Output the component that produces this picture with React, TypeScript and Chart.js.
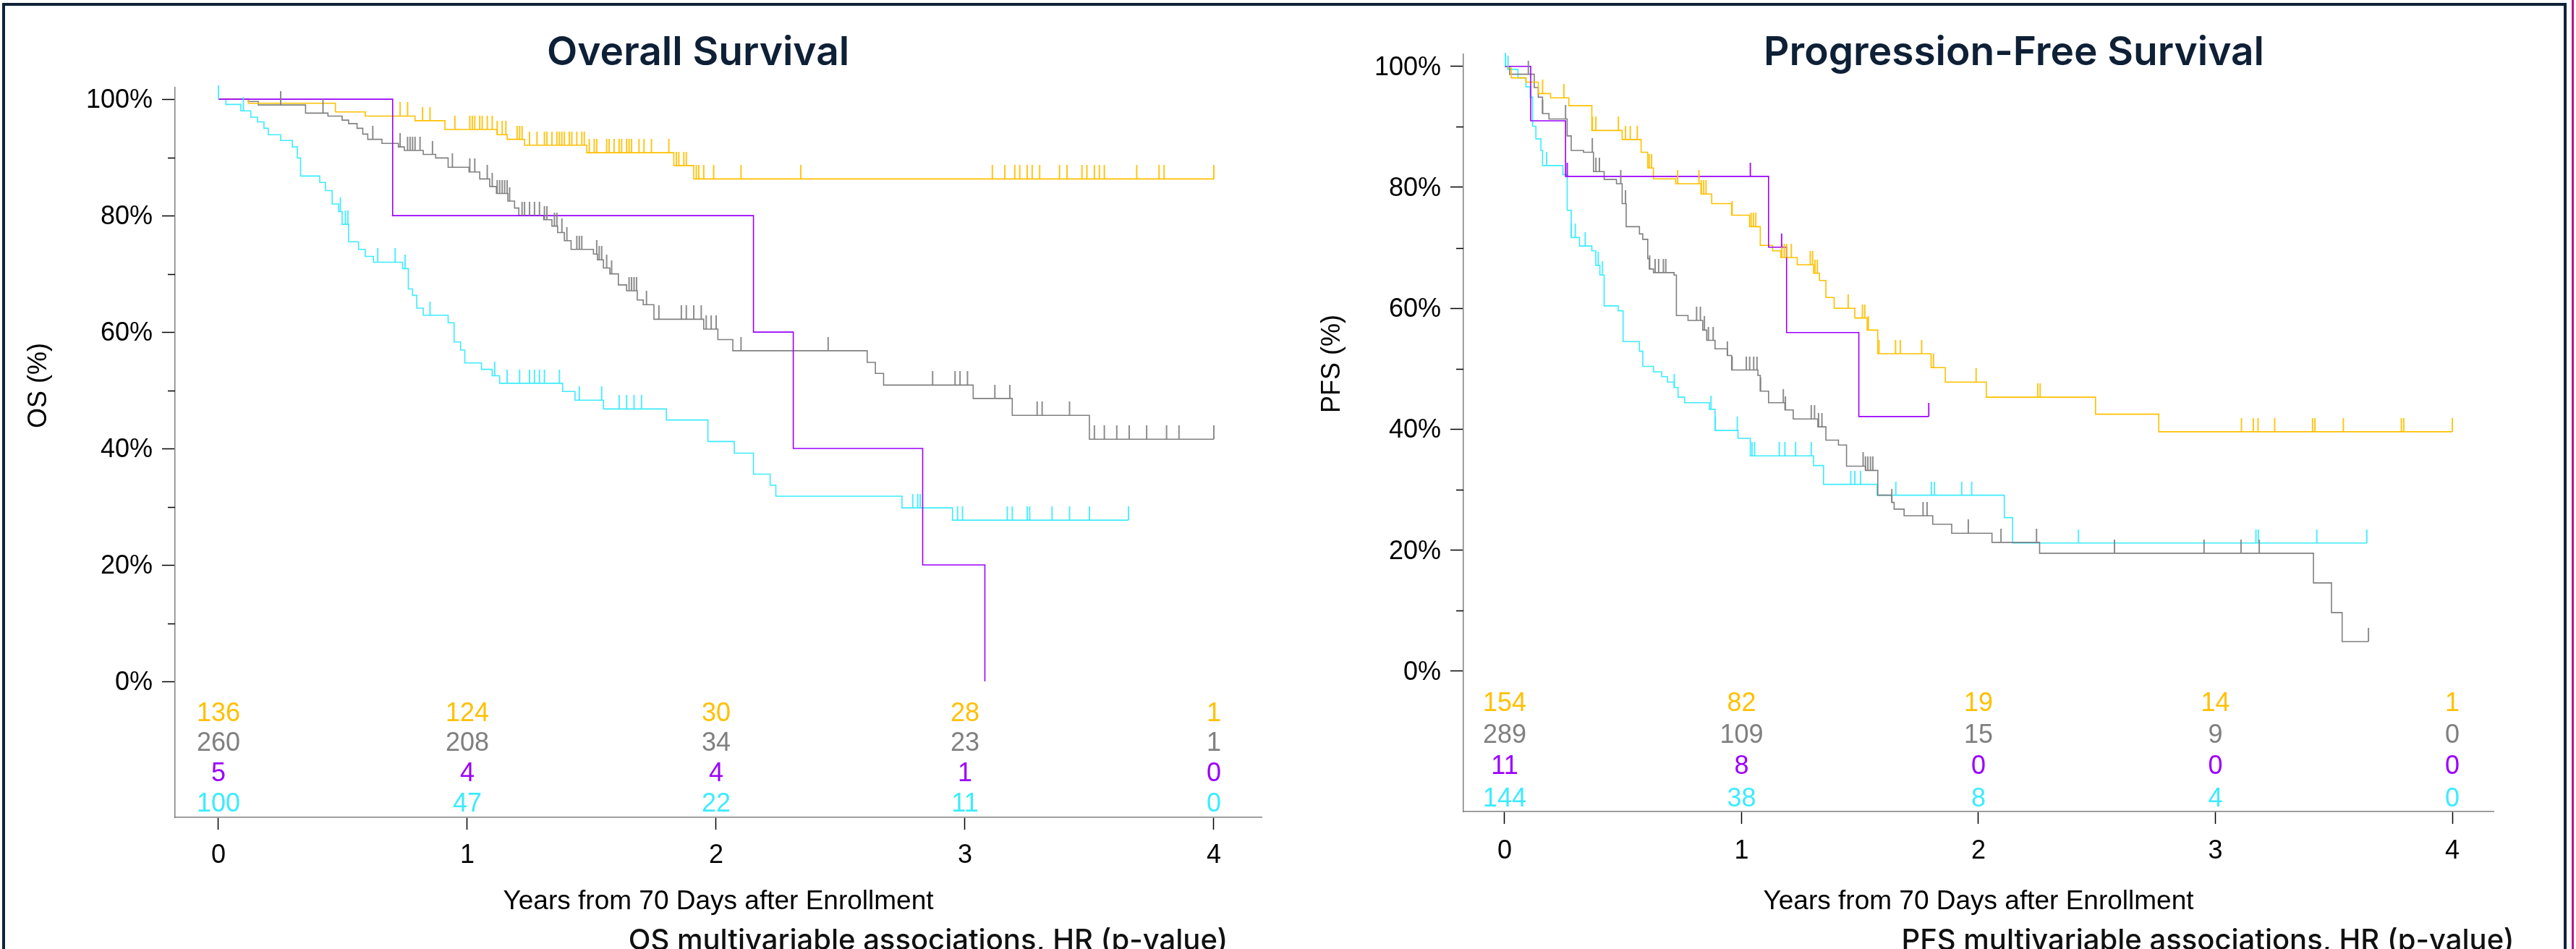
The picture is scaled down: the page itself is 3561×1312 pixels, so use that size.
import React, { useEffect, useRef } from 'react';
import { Chart, registerables } from 'chart.js';

Chart.register(...registerables);

// ---------------- data ----------------
const yearTicks = [0, 1, 2, 3, 4];
const percentTicks = [0, 20, 40, 60, 80, 100];
const minorPercentTicks = [10, 30, 50, 70, 90];

const groupColors = ['#FFC000', '#808080', '#9B00FF', '#3DEBFF'];

// Overall survival (years, %)
const osYellowT = [0, 0.12, 0.47, 0.59, 0.79, 0.91, 1.12, 1.16, 1.23, 1.48, 1.83, 1.91];
const osYellowS = [100, 99.3, 97.8, 97.1, 96.3, 94.8, 93.9, 93.1, 92.1, 90.8, 88.6, 86.3];
const osYellowEnd = 4.0;
const osYellowCensor = [0.73, 0.76, 0.82, 0.85, 0.95, 1.01, 1.02, 1.03, 1.05, 1.06, 1.08, 1.1, 1.12, 1.14, 1.155, 1.2, 1.21, 1.22, 1.25, 1.28, 1.31, 1.32, 1.34, 1.36, 1.37, 1.38, 1.39, 1.41, 1.42, 1.44, 1.46, 1.47, 1.49, 1.51, 1.52, 1.56, 1.57, 1.59, 1.61, 1.62, 1.64, 1.65, 1.66, 1.69, 1.71, 1.74, 1.81, 1.84, 1.85, 1.87, 1.88, 1.92, 1.93, 1.95, 1.99, 2.1, 2.34, 3.11, 3.16, 3.2, 3.22, 3.25, 3.27, 3.3, 3.38, 3.41, 3.47, 3.49, 3.52, 3.54, 3.56, 3.69, 3.78, 3.8, 4.0];

const osGrayT = [0, 0.12, 0.16, 0.35, 0.44, 0.497, 0.523, 0.557, 0.58, 0.6, 0.657, 0.723, 0.747, 0.823, 0.873, 0.923, 1.007, 1.05, 1.09, 1.117, 1.163, 1.19, 1.207, 1.307, 1.34, 1.363, 1.39, 1.417, 1.507, 1.523, 1.547, 1.573, 1.607, 1.64, 1.683, 1.707, 1.75, 1.95, 2.007, 2.067, 2.607, 2.64, 2.673, 3.033, 3.19, 3.5];
const osGrayS = [100, 99.6, 99.0, 97.6, 97.1, 96.4, 95.8, 95.0, 94.0, 93.1, 92.4, 91.8, 91.2, 90.5, 89.9, 88.3, 87.5, 86.3, 85.0, 83.8, 82.5, 81.3, 80.0, 79.3, 78.2, 77.1, 75.7, 74.2, 73.4, 72.4, 71.0, 70.0, 68.1, 67.1, 65.5, 64.7, 62.2, 60.5, 58.7, 56.8, 54.8, 52.9, 50.9, 48.6, 45.7, 41.6];
const osGrayEnd = 4.0;
const osGrayCensor = [0.25, 0.42, 0.62, 0.73, 0.76, 0.77, 0.78, 0.79, 0.81, 0.86, 0.94, 1.01, 1.03, 1.08, 1.1, 1.12, 1.13, 1.14, 1.15, 1.16, 1.17, 1.22, 1.23, 1.25, 1.27, 1.29, 1.31, 1.32, 1.35, 1.36, 1.38, 1.4, 1.44, 1.45, 1.46, 1.52, 1.53, 1.54, 1.56, 1.58, 1.65, 1.66, 1.67, 1.68, 1.72, 1.77, 1.86, 1.88, 1.91, 1.94, 1.96, 1.98, 2.0, 2.1, 2.45, 2.87, 2.96, 2.98, 3.01, 3.12, 3.18, 3.29, 3.31, 3.42, 3.52, 3.56, 3.61, 3.66, 3.73, 3.81, 3.86, 4.0];

const osPurpleT = [0, 0.7, 2.15, 2.31, 2.83, 3.08];
const osPurpleS = [100, 80, 60, 40, 20, 0];
const osPurpleEnd = 3.08;
const osPurpleCensor: number[] = [];

const osCyanT = [0, 0.03, 0.09, 0.13, 0.157, 0.183, 0.2, 0.25, 0.297, 0.317, 0.33, 0.407, 0.43, 0.457, 0.483, 0.497, 0.523, 0.563, 0.59, 0.623, 0.74, 0.763, 0.78, 0.797, 0.823, 0.923, 0.947, 0.973, 0.99, 1.057, 1.1, 1.13, 1.383, 1.433, 1.547, 1.8, 1.967, 2.073, 2.15, 2.217, 2.24, 2.747, 2.95];
const osCyanS = [100, 99.1, 98.0, 96.9, 96.1, 95.0, 93.9, 92.9, 91.8, 89.9, 86.8, 85.7, 84.3, 82.0, 80.7, 78.5, 75.5, 74.2, 73.0, 72.0, 70.9, 67.4, 66.3, 64.1, 62.9, 61.6, 58.3, 56.9, 54.7, 53.6, 52.5, 51.2, 49.8, 48.3, 46.8, 44.9, 41.2, 39.2, 35.6, 33.7, 31.8, 29.8, 27.7];
const osCyanEnd = 3.657;
const osCyanCensor = [0, 0.1, 0.49, 0.51, 0.52, 0.64, 0.71, 0.75, 0.85, 1.11, 1.16, 1.21, 1.25, 1.27, 1.29, 1.31, 1.37, 1.45, 1.54, 1.61, 1.64, 1.67, 1.7, 2.79, 2.81, 2.82, 2.97, 2.99, 3.17, 3.19, 3.25, 3.26, 3.35, 3.42, 3.5, 3.657];

// Progression-free survival (years, %)
const pfsYellowT = [0, 0.014, 0.028, 0.09, 0.142, 0.194, 0.271, 0.368, 0.496, 0.576, 0.604, 0.628, 0.722, 0.829, 0.874, 0.958, 1.034, 1.079, 1.131, 1.166, 1.235, 1.304, 1.329, 1.356, 1.391, 1.478, 1.53, 1.575, 1.8, 1.86, 2.033, 2.494, 2.761];
const pfsYellowS = [100, 99.7, 98.1, 97.4, 95.5, 94.8, 93.5, 89.4, 87.9, 85.8, 83.2, 81.4, 80.6, 78.9, 77.3, 75.4, 73.5, 70.4, 69.5, 68.4, 67.2, 65.8, 64.6, 61.8, 60.0, 58.4, 56.4, 52.5, 50.2, 47.8, 45.3, 42.5, 39.6];
const pfsYellowEnd = 4.0;
const pfsYellowCensor = [0.16, 0.25, 0.37, 0.385, 0.48, 0.51, 0.53, 0.56, 0.61, 0.62, 0.73, 0.82, 0.83, 0.84, 0.85, 0.96, 1.04, 1.05, 1.06, 1.17, 1.18, 1.19, 1.21, 1.29, 1.3, 1.31, 1.32, 1.45, 1.51, 1.52, 1.535, 1.58, 1.65, 1.67, 1.76, 1.81, 1.99, 2.25, 2.26, 3.11, 3.16, 3.18, 3.25, 3.41, 3.42, 3.54, 3.785, 3.795, 4.0];

const pfsGrayT = [0, 0.021, 0.125, 0.142, 0.16, 0.187, 0.264, 0.281, 0.333, 0.375, 0.42, 0.472, 0.496, 0.513, 0.569, 0.583, 0.604, 0.611, 0.628, 0.715, 0.725, 0.774, 0.836, 0.853, 0.888, 0.94, 0.958, 1.069, 1.079, 1.114, 1.183, 1.218, 1.322, 1.356, 1.409, 1.443, 1.523, 1.575, 1.634, 1.644, 1.686, 1.807, 1.887, 2.057, 2.258, 3.414, 3.49, 3.535];
const pfsGrayS = [100, 98.7, 96.5, 94.9, 92.2, 91.3, 88.5, 86.1, 85.8, 82.6, 81.3, 80.6, 77.3, 73.5, 72.3, 71.4, 68.2, 66.5, 65.9, 65.5, 58.8, 58.0, 56.4, 54.7, 53.3, 52.2, 49.8, 48.9, 46.3, 44.4, 43.2, 41.7, 40.4, 38.2, 37.4, 33.9, 33.2, 29.1, 27.9, 26.8, 25.7, 24.3, 22.8, 21.3, 19.5, 14.6, 9.7, 4.9];
const pfsGrayEnd = 3.646;
const pfsGrayCensor = [0.1, 0.16, 0.257, 0.37, 0.385, 0.4, 0.49, 0.51, 0.612, 0.635, 0.65, 0.67, 0.68, 0.81, 0.826, 0.843, 0.86, 0.88, 0.94, 0.96, 1.02, 1.034, 1.051, 1.065, 1.08, 1.176, 1.185, 1.294, 1.308, 1.325, 1.339, 1.513, 1.523, 1.533, 1.544, 1.554, 1.634, 1.766, 1.783, 1.957, 2.095, 2.245, 2.574, 2.952, 3.108, 3.185, 3.646];

const pfsPurpleT = [0, 0.11, 0.257, 1.114, 1.19, 1.495];
const pfsPurpleS = [100, 91.0, 81.8, 70.1, 56.0, 42.1];
const pfsPurpleEnd = 1.79;
const pfsPurpleCensor = [0.264, 1.037, 1.169, 1.79];

const pfsCyanT = [0, 0.014, 0.056, 0.09, 0.108, 0.118, 0.132, 0.153, 0.16, 0.246, 0.264, 0.281, 0.316, 0.368, 0.385, 0.402, 0.42, 0.479, 0.5, 0.569, 0.583, 0.628, 0.663, 0.687, 0.715, 0.732, 0.76, 0.864, 0.888, 0.985, 1.037, 1.304, 1.346, 1.572, 2.109, 2.144];
const pfsCyanS = [100, 99.5, 98.1, 96.6, 94.9, 90.1, 88.0, 86.1, 83.6, 82.1, 76.2, 71.7, 70.3, 69.5, 67.1, 65.5, 60.4, 59.6, 54.5, 52.9, 50.4, 49.5, 48.7, 47.8, 46.9, 45.3, 44.4, 43.3, 39.8, 38.5, 35.6, 34.0, 30.9, 29.1, 25.4, 21.2];
const pfsCyanEnd = 3.639;
const pfsCyanCensor = [0.003, 0.014, 0.177, 0.281, 0.298, 0.34, 0.395, 0.413, 0.716, 0.871, 0.889, 0.982, 1.044, 1.055, 1.159, 1.183, 1.228, 1.294, 1.461, 1.478, 1.502, 1.651, 1.801, 1.814, 1.929, 1.971, 2.422, 3.171, 3.181, 3.428, 3.639];

// numbers at risk (yellow, gray, purple, cyan) at yearTicks
const osRiskYellow = [136, 124, 30, 28, 1];
const osRiskGray = [260, 208, 34, 23, 1];
const osRiskPurple = [5, 4, 4, 1, 0];
const osRiskCyan = [100, 47, 22, 11, 0];
const pfsRiskYellow = [154, 82, 19, 14, 1];
const pfsRiskGray = [289, 109, 15, 9, 0];
const pfsRiskPurple = [11, 8, 0, 0, 0];
const pfsRiskCyan = [144, 38, 8, 4, 0];

// risk-table row levels on the y scale (%)
const osRiskRowLevels = [-5.65, -10.75, -15.95, -21.15];
const pfsRiskRowLevels = [-5.45, -10.65, -15.8, -21.15];

// ---------------- helpers ----------------
type Group = { t: number[]; s: number[]; end: number; censor: number[]; color: string };

function stepPoints(g: Group) {
  const pts = g.t.map((t, i) => ({ x: t, y: g.s[i] }));
  if (g.end > g.t[g.t.length - 1]) pts.push({ x: g.end, y: g.s[g.s.length - 1] });
  return pts;
}
function valueAt(g: Group, t: number) {
  let v = g.s[0];
  for (let i = 0; i < g.t.length; i++) if (g.t[i] <= t + 1e-9) v = g.s[i];
  return v;
}
const tickCache: Record<string, HTMLCanvasElement> = {};
function tickImage(color: string) {
  if (tickCache[color]) return tickCache[color];
  const c = document.createElement('canvas');
  c.width = 4;
  c.height = 38;
  const g = c.getContext('2d')!;
  g.strokeStyle = color;
  g.lineWidth = 1.8;
  g.beginPath();
  g.moveTo(2, 0);
  g.lineTo(2, 19);
  g.stroke();
  tickCache[color] = c;
  return c;
}

const ARIAL = '"Liberation Sans", Arial, sans-serif';
const POP = 'Inter, "Open Sans", sans-serif';

type PanelSpec = {
  left: number; w: number; h: number;
  groups: Group[];
  risk: number[][];
  riskLevels: number[];
  xMin: number; xMax: number; yMin: number; yMax: number;
  padTop: number; padRight: number; yAxisWidth: number; xAxisHeight: number;
  xTickPad: number; xTitlePad: number;
  title: string; titleX: number; titleBase: number;
  yTitle: string; yTitleX: number; yTitleY: number;
  foot: string; footX: number; footBase: number;
};

function buildConfig(p: PanelSpec): any {
  const lineOrder = [2, 0, 1, 3];
  const censorSets = lineOrder.map((gi) => {
    const g = p.groups[gi];
    return {
      type: 'line',
      data: g.censor.map((t) => ({ x: t, y: valueAt(g, t) })),
      showLine: false,
      pointStyle: tickImage(g.color),
      pointRadius: 2,
      pointHoverRadius: 2,
      borderColor: g.color,
      backgroundColor: g.color,
      clip: false,
    };
  });
  const lineSets = lineOrder.map((gi) => {
    const g = p.groups[gi];
    return {
      type: 'line',
      data: stepPoints(g),
      stepped: 'before',
      borderColor: g.color,
      borderWidth: 1.6,
      pointRadius: 0,
      fill: false,
      clip: false,
    };
  });

  const decor = {
    id: 'decor',
    afterDraw(chart: any) {
      const ctx = chart.ctx as CanvasRenderingContext2D;
      const xs = chart.scales.x;
      const ys = chart.scales.y;
      const area = chart.chartArea;
      ctx.save();
      // minor y ticks
      ctx.strokeStyle = '#000';
      ctx.lineWidth = 1.5;
      for (const v of minorPercentTicks) {
        const py = Math.round(ys.getPixelForValue(v)) + 0.5;
        ctx.beginPath();
        ctx.moveTo(area.left - 10, py);
        ctx.lineTo(area.left, py);
        ctx.stroke();
      }
      // numbers at risk
      ctx.font = `36px ${ARIAL}`;
      ctx.textAlign = 'center';
      ctx.textBaseline = 'middle';
      p.risk.forEach((row, r) => {
        ctx.fillStyle = groupColors[r];
        const py = ys.getPixelForValue(p.riskLevels[r]);
        row.forEach((n, k) => ctx.fillText(String(n), xs.getPixelForValue(yearTicks[k]), py));
      });
      // title
      ctx.fillStyle = '#0E2036';
      ctx.textBaseline = 'alphabetic';
      ctx.font = `600 55px ${POP}`;
      ctx.fillText(p.title, p.titleX, p.titleBase);
      // footer
      ctx.fillStyle = '#111111';
      ctx.font = `500 40px ${POP}`;
      ctx.fillText(p.foot, p.footX, p.footBase);
      // y title
      ctx.translate(p.yTitleX, p.yTitleY);
      ctx.rotate(-Math.PI / 2);
      ctx.fillStyle = '#000';
      ctx.font = `36px ${ARIAL}`;
      ctx.textBaseline = 'middle';
      ctx.fillText(p.yTitle, 0, 0);
      ctx.restore();
    },
  };

  return {
    type: 'line',
    data: { datasets: [...censorSets, ...lineSets] },
    plugins: [decor],
    options: {
      animation: false,
      responsive: false,
      maintainAspectRatio: false,
      events: [],
      layout: { padding: { left: 0, top: p.padTop, right: p.padRight, bottom: 0 } },
      plugins: { legend: { display: false }, tooltip: { enabled: false }, title: { display: false } },
      scales: {
        x: {
          type: 'linear',
          min: p.xMin,
          max: p.xMax,
          afterBuildTicks: (s: any) => { s.ticks = yearTicks.map((v) => ({ value: v })); },
          afterFit: (s: any) => { s.height = p.xAxisHeight; },
          grid: { drawOnChartArea: false, tickLength: 17, tickColor: '#000', tickWidth: 1.5 },
          border: { color: '#808080', width: 1.5 },
          ticks: { color: '#000', font: { family: ARIAL, size: 36 }, padding: p.xTickPad, maxRotation: 0, autoSkip: false, callback: (v: any) => String(v) },
          title: { display: true, text: 'Years from 70 Days after Enrollment', color: '#000', font: { family: ARIAL, size: 37 }, padding: { top: 0, bottom: p.xTitlePad } },
        },
        y: {
          type: 'linear',
          min: p.yMin,
          max: p.yMax,
          afterBuildTicks: (s: any) => { s.ticks = percentTicks.map((v) => ({ value: v })); },
          afterFit: (s: any) => { s.width = p.yAxisWidth; },
          grid: { drawOnChartArea: false, tickLength: 18, tickColor: '#000', tickWidth: 1.5 },
          border: { color: '#808080', width: 1.5 },
          ticks: { color: '#000', font: { family: ARIAL, size: 36 }, padding: 13, labelOffset: 2, autoSkip: false, callback: (v: any) => `${v}%` },
        },
      },
    },
  };
}

function Panel({ spec }: { spec: PanelSpec }) {
  const ref = useRef<HTMLCanvasElement>(null);
  useEffect(() => {
    const chart = new Chart(ref.current as HTMLCanvasElement, buildConfig(spec));
    return () => chart.destroy();
  }, []);
  return (
    <canvas
      ref={ref}
      width={spec.w}
      height={spec.h}
      style={{ position: 'absolute', left: spec.left, top: 0, width: spec.w, height: spec.h }}
    />
  );
}

const osGroups: Group[] = [
  { t: osYellowT, s: osYellowS, end: osYellowEnd, censor: osYellowCensor, color: groupColors[0] },
  { t: osGrayT, s: osGrayS, end: osGrayEnd, censor: osGrayCensor, color: groupColors[1] },
  { t: osPurpleT, s: osPurpleS, end: osPurpleEnd, censor: osPurpleCensor, color: groupColors[2] },
  { t: osCyanT, s: osCyanS, end: osCyanEnd, censor: osCyanCensor, color: groupColors[3] },
];
const pfsGroups: Group[] = [
  { t: pfsYellowT, s: pfsYellowS, end: pfsYellowEnd, censor: pfsYellowCensor, color: groupColors[0] },
  { t: pfsGrayT, s: pfsGrayS, end: pfsGrayEnd, censor: pfsGrayCensor, color: groupColors[1] },
  { t: pfsPurpleT, s: pfsPurpleS, end: pfsPurpleEnd, censor: pfsPurpleCensor, color: groupColors[2] },
  { t: pfsCyanT, s: pfsCyanS, end: pfsCyanEnd, censor: pfsCyanCensor, color: groupColors[3] },
];

const osSpec: PanelSpec = {
  left: 0, w: 1780, h: 1312,
  groups: osGroups,
  risk: [osRiskYellow, osRiskGray, osRiskPurple, osRiskCyan],
  riskLevels: osRiskRowLevels,
  xMin: -0.1744, xMax: 4.192, yMin: -23.35, yMax: 102,
  padTop: 121, padRight: 36, yAxisWidth: 242, xAxisHeight: 182,
  xTickPad: 14, xTitlePad: 43,
  title: 'Overall Survival', titleX: 965, titleBase: 90,
  yTitle: 'OS (%)', yTitleX: 54, yTitleY: 533,
  foot: 'OS multivariable associations, HR (p-value)', footX: 1283, footBase: 1313,
};
const pfsSpec: PanelSpec = {
  left: 1780, w: 1781, h: 1312,
  groups: pfsGroups,
  risk: [pfsRiskYellow, pfsRiskGray, pfsRiskPurple, pfsRiskCyan],
  riskLevels: pfsRiskRowLevels,
  xMin: -0.174, xMax: 4.174, yMin: -23.2, yMax: 102,
  padTop: 75, padRight: 114, yAxisWidth: 243, xAxisHeight: 190,
  xTickPad: 16, xTitlePad: 43,
  title: 'Progression-Free Survival', titleX: 1004, titleBase: 90,
  yTitle: 'PFS (%)', yTitleX: 62, yTitleY: 503,
  foot: 'PFS multivariable associations, HR (p-value)', footX: 1272, footBase: 1313,
};

export default function App() {
  return (
    <div style={{ position: 'fixed', left: 0, top: 0, width: 3561, height: 1312, overflow: 'hidden', background: '#fff' }}>
      <Panel spec={osSpec} />
      <Panel spec={pfsSpec} />
      <div style={{ position: 'absolute', left: 3, top: 4, width: 3545, height: 1400, boxSizing: 'border-box', border: '4px solid #0F2338', pointerEvents: 'none' }} />
      <div style={{ position: 'absolute', left: 3555, top: 0, width: 3, height: 1312, background: '#B8178E' }} />
    </div>
  );
}
